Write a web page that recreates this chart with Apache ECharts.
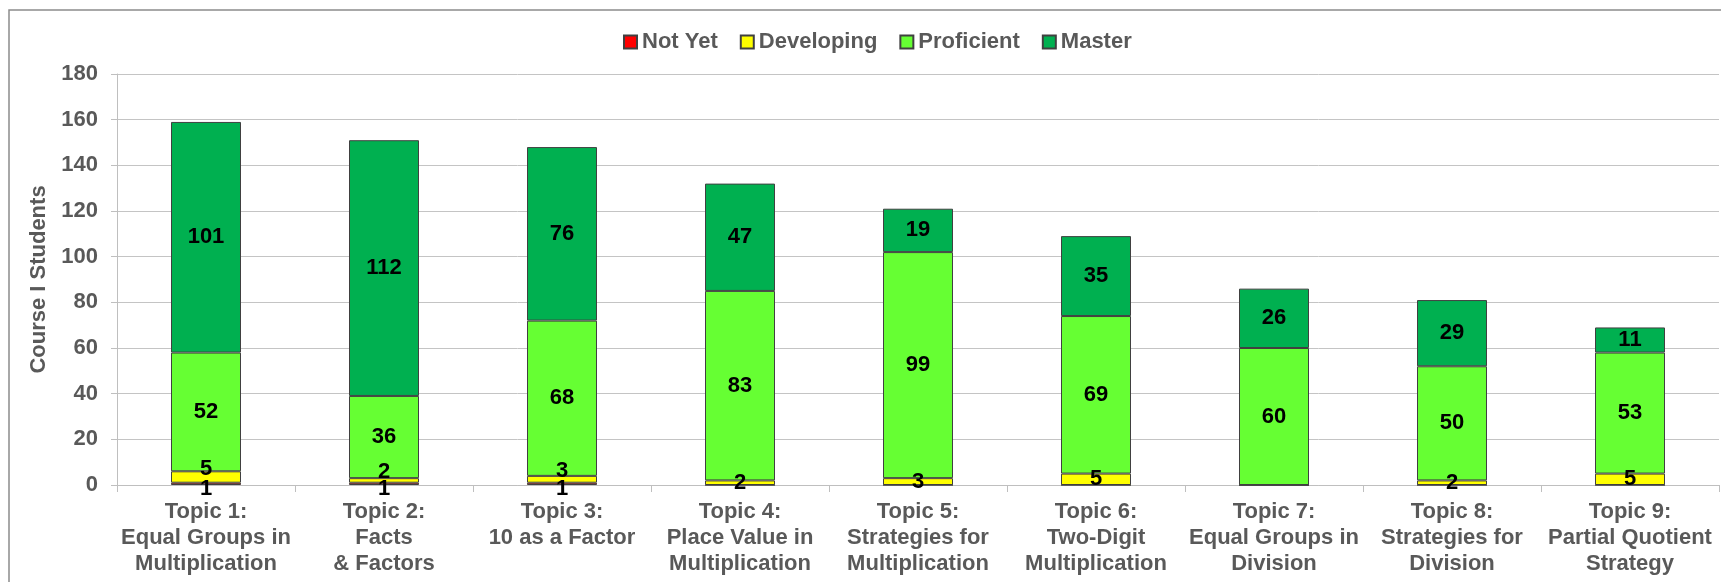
<!DOCTYPE html>
<html>
<head>
<meta charset="utf-8">
<script src="https://cdn.jsdelivr.net/npm/echarts@6/dist/echarts.min.js"></script>
<style>
  html, body { margin: 0; padding: 0; background: #fff; }
  #chart { width: 1721px; height: 582px; }
</style>
</head>
<body>
<div id="chart"></div>
<script>
// chart data
const topics = [
  'Topic 1:\nEqual Groups in\nMultiplication',
  'Topic 2:\nFacts\n& Factors',
  'Topic 3:\n10 as a Factor',
  'Topic 4:\nPlace Value in\nMultiplication',
  'Topic 5:\nStrategies for\nMultiplication',
  'Topic 6:\nTwo-Digit\nMultiplication',
  'Topic 7:\nEqual Groups in\nDivision',
  'Topic 8:\nStrategies for\nDivision',
  'Topic 9:\nPartial Quotient\nStrategy'
]
const notYet = [1, 1, 1, 0, 0, 0, 0, 0, 0]
const developing = [5, 2, 3, 2, 3, 5, 0, 2, 5]
const proficient = [52, 36, 68, 83, 99, 69, 60, 50, 53]
const master = [101, 112, 76, 47, 19, 35, 26, 29, 11]
const yTicks = [0, 20, 40, 60, 80, 100, 120, 140, 160, 180]

const FONT = '"Liberation Sans", Arial, sans-serif'
const GREY = '#595959'

function makeSeries(name, values, color, labelOffsetFn) {
  return {
    name: name,
    type: 'bar',
    stack: 'total',
    barWidth: 70,
    itemStyle: { color: color, borderColor: '#404040', borderWidth: 1 },
    label: {
      show: true,
      position: 'inside',
      color: '#000',
      fontFamily: FONT,
      fontWeight: 'bold',
      fontSize: 22,
      formatter: (p) => (p.value ? String(p.value) : '')
    },
    data: values.map((v, i) => {
      const off = labelOffsetFn ? labelOffsetFn(i) : null
      return off ? { value: v, label: { offset: off } } : v
    })
  }
}

const chart = echarts.init(document.getElementById('chart'), null, { renderer: 'canvas' })

const option = {
  backgroundColor: '#fff',
  animation: false,
  graphic: [{
    type: 'rect',
    shape: { x: 9, y: 10, width: 1740, height: 620 },
    style: { fill: 'none', stroke: '#8C8C8C', lineWidth: 1.5 },
    silent: true,
    z: -10
  }],
  legend: {
    left: 618,
    top: 26,
    itemWidth: 13,
    itemHeight: 13,
    itemGap: 22,
    itemTextGap: 4,
    icon: 'rect',
    textStyle: { color: GREY, fontFamily: FONT, fontWeight: 'bold', fontSize: 22 },
    data: ['Not Yet', 'Developing', 'Proficient', 'Master']
  },
  grid: { left: 117, right: 2, top: 74, bottom: 97, containLabel: false },
  xAxis: {
    type: 'category',
    data: topics,
    axisLine: { lineStyle: { color: '#BFBFBF', width: 1 } },
    axisTick: { show: true, length: 7, lineStyle: { color: '#BFBFBF' } },
    axisLabel: {
      color: GREY,
      fontFamily: FONT,
      fontWeight: 'bold',
      fontSize: 22,
      lineHeight: 26,
      margin: 14,
      interval: 0
    }
  },
  yAxis: {
    type: 'value',
    min: yTicks[0],
    max: yTicks[yTicks.length - 1],
    interval: 20,
    name: 'Course I Students',
    nameLocation: 'middle',
    nameRotate: 90,
    nameGap: 64,
    nameTextStyle: { color: GREY, fontFamily: FONT, fontWeight: 'bold', fontSize: 22 },
    axisLine: { show: true, lineStyle: { color: '#BFBFBF', width: 1 } },
    axisTick: { show: true, length: 6, lineStyle: { color: '#BFBFBF' } },
    axisLabel: { color: GREY, fontFamily: FONT, fontWeight: 'bold', fontSize: 22, margin: 19 },
    splitLine: { lineStyle: { color: '#C4C4C4', width: 1 } }
  },
  series: [
    makeSeries('Not Yet', notYet, '#FF0000', (i) => (notYet[i] ? [0, 5] : null)),
    makeSeries('Developing', developing, '#FFFF00', (i) => (notYet[i] ? [0, -8] : null)),
    makeSeries('Proficient', proficient, '#66FF33'),
    makeSeries('Master', master, '#00B050')
  ]
}

chart.setOption(option)
</script>
</body>
</html>
